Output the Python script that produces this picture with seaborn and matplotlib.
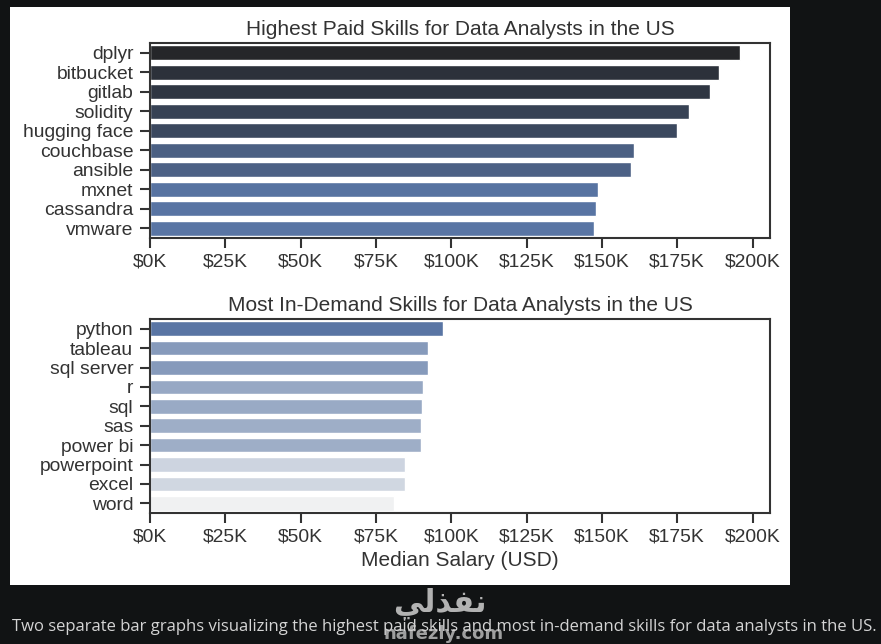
import matplotlib
matplotlib.use("Agg")
import matplotlib.pyplot as plt
from matplotlib.patches import Rectangle
from matplotlib.ticker import FuncFormatter
import pandas as pd
import seaborn as sns

# Top paid skills (median salary, USD)
pay_skills = ["dplyr", "bitbucket", "gitlab", "solidity", "hugging face",
              "couchbase", "ansible", "mxnet", "cassandra", "vmware"]
pay_median = [196000, 189000, 186000, 179000, 175000,
              160500, 159600, 148700, 147900, 147500]

# Most in-demand skills (median salary, USD)
demand_skills = ["python", "tableau", "sql server", "r", "sql",
                 "sas", "power bi", "powerpoint", "excel", "word"]
demand_median = [97300, 92400, 92400, 90600, 90300,
                 89800, 89800, 84800, 84500, 81000]

caption = ("Two separate bar graphs visualizing the highest paid skills and "
           "most in-demand skills for data analysts in the US.")

df_pay = pd.DataFrame({"skill": pay_skills, "median": pay_median})
df_demand = pd.DataFrame({"skill": demand_skills, "median": demand_median})

sns.set_theme(style="ticks")
plt.rcParams["font.family"] = ["Liberation Sans", "DejaVu Sans"]

fig = plt.figure(figsize=(8.81, 6.44), dpi=100, facecolor="#111314")

# white card behind the charts
fig.patches.append(Rectangle((10 / 881, 1 - 585 / 644), 780 / 881, 578 / 644,
                             transform=fig.transFigure, facecolor="white",
                             edgecolor="none", zorder=-5))

ax0 = fig.add_axes([150 / 881, 1 - 238 / 644, 620 / 881, 195 / 644])
ax1 = fig.add_axes([150 / 881, 1 - 513 / 644, 620 / 881, 194 / 644])

sns.barplot(data=df_pay, x="median", y="skill", hue="median",
            palette="dark:b_r", ax=ax0, legend=False, width=0.75)
ax0.set_title("Highest Paid Skills for Data Analysts in the US", fontsize=15)
ax0.set_xlabel("")
ax0.set_ylabel("")

sns.barplot(data=df_demand, x="median", y="skill", hue="median",
            palette="light:b", ax=ax1, legend=False, width=0.75)
ax1.set_xlim(ax0.get_xlim())
ax1.set_title("Most In-Demand Skills for Data Analysts in the US", fontsize=15)
ax1.set_xlabel("Median Salary (USD)", fontsize=15)
ax1.set_ylabel("")

fmt = FuncFormatter(lambda x, pos: f"${int(x / 1000)}K")
for ax in (ax0, ax1):
    ax.xaxis.set_major_formatter(fmt)
    ax.tick_params(labelsize=13.9, length=7.5, width=1.5, colors="#333333")
    ax.tick_params(axis="y", pad=4.5)
    for sp in ax.spines.values():
        sp.set_linewidth(1.5)
        sp.set_color("#333333")
    ax.title.set_color("#333333")
    ax.xaxis.label.set_color("#333333")

# caption under the card
fig.text(12 / 881, 1 - 627 / 644, caption, color="#d4d4d4", fontsize=12,
         family=["Open Sans", "DejaVu Sans"], va="center", ha="left")

# site watermark
fig.text(440 / 881, 1 - 603 / 644, "\ufef2\ufedf\ufeac\ufed4\ufee7", color="#cfcfcf",
         alpha=0.85, fontsize=22, fontweight="bold", family=["DejaVu Sans"],
         ha="center", va="center")
fig.text(444 / 881, 1 - 634 / 644, "nafezly.com", color="#cfcfcf", alpha=0.75,
         fontsize=13, fontweight="bold", family=["DejaVu Sans"],
         ha="center", va="center")

fig.savefig("out.png", dpi=100, facecolor=fig.get_facecolor())
